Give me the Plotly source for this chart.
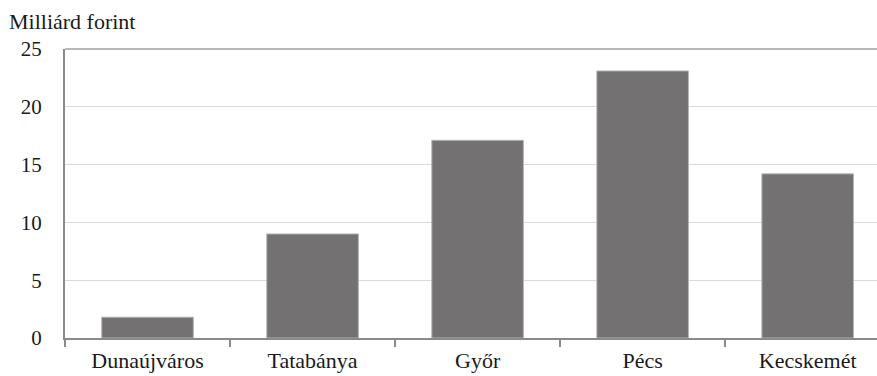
import plotly.graph_objects as go

# Cities and their values (billion forints)
cities = ["Dunaújváros", "Tatabánya", "Győr", "Pécs", "Kecskemét"]
values = [1.8, 9.0, 17.1, 23.1, 14.2]
y_ticks = [0, 5, 10, 15, 20, 25]
unit_label = "Milliárd forint"

FONT = "Liberation Serif"

fig = go.Figure(
    go.Bar(
        x=cities,
        y=values,
        marker=dict(color="#747172", line=dict(color="#b4b4b4", width=1)),
        hoverinfo="x+y",
    )
)

fig.update_layout(
    width=877,
    height=376,
    margin=dict(l=65, r=0, t=49, b=38),
    paper_bgcolor="white",
    plot_bgcolor="white",
    bargap=0.445,
    showlegend=False,
    font=dict(family=FONT, size=21, color="#1a1a1a"),
)

fig.update_xaxes(
    type="category",
    range=[-0.5, 4.42],
    showgrid=False,
    showline=True,
    linecolor="#8a8a8a",
    linewidth=2,
    ticks="outside",
    tickson="boundaries",
    ticklen=7,
    tickwidth=1.5,
    tickcolor="#8a8a8a",
    tickfont=dict(family=FONT, size=22, color="#1a1a1a"),
    ticklabelstandoff=2,
)

fig.update_yaxes(
    range=[0, 25],
    tickvals=y_ticks,
    showgrid=True,
    gridcolor="#dadada",
    gridwidth=1,
    zeroline=False,
    showline=True,
    linecolor="#8a8a8a",
    linewidth=2,
    ticks="",
    tickfont=dict(family=FONT, size=21, color="#1a1a1a"),
    ticklabelstandoff=17,
)

# Upper border of the plotting area
fig.add_shape(
    type="line", xref="paper", yref="y domain",
    x0=0, x1=1, y0=1, y1=1,
    line=dict(color="#a0a0a0", width=1.5),
)

fig.add_annotation(
    text=unit_label,
    xref="paper", yref="paper",
    x=-58 / 812, y=1,
    xanchor="left", yanchor="bottom",
    yshift=13,
    showarrow=False,
    font=dict(family=FONT, size=22, color="#1a1a1a"),
)

fig.write_html("out.html")
